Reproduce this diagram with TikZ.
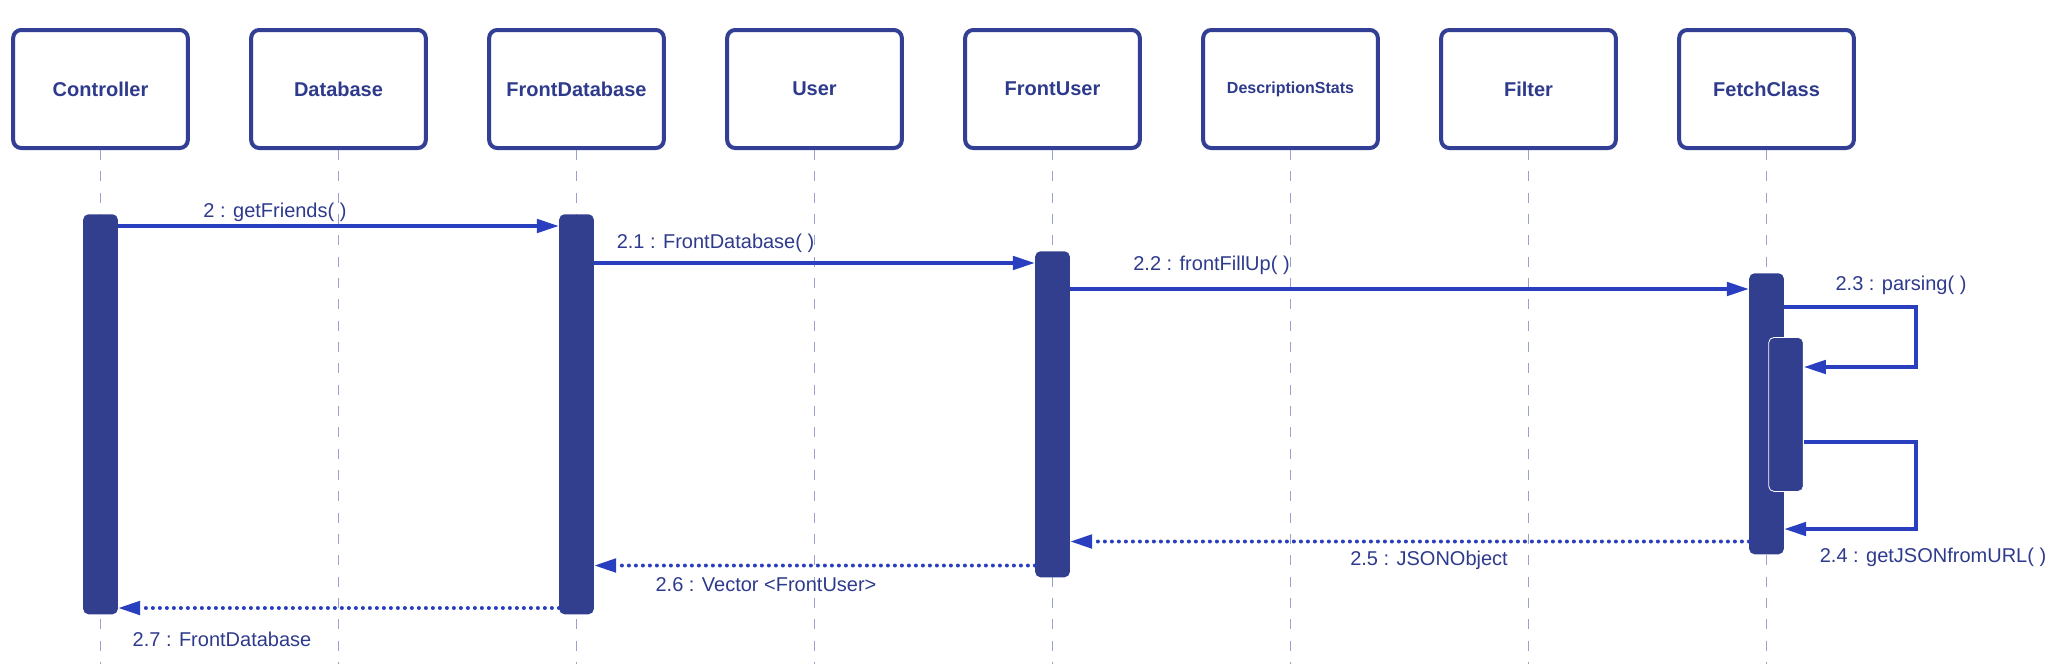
\documentclass[tikz,border=0pt]{standalone}
\usepackage{fontspec}
\setmainfont{Liberation Sans}
\usepackage{xcolor}
\usepackage{tikz}
\usetikzlibrary{calc, positioning, arrows.meta}
\definecolor{umlNavy}{HTML}{323F94}
\definecolor{umlBar}{HTML}{323F8F}
\definecolor{umlArrow}{HTML}{2A3FC0}
\definecolor{umlLife}{HTML}{9AA0CC}
\definecolor{umlText}{HTML}{2E3A8C}
\tikzset{
    object/.style={rectangle, draw=umlNavy, line width=3pt, rounded corners=6pt, fill=white, minimum width=131pt, minimum height=88.5pt, text=umlText, align=center},
    lifeline/.style={draw=umlLife, line width=1.1pt, dash pattern=on 7.5pt off 8.5pt},
    activation/.style={rectangle, fill=umlBar, rounded corners=4pt, minimum width=26pt, inner sep=0pt, anchor=north},
    call/.style={draw=umlArrow, line width=2.8pt, -{Triangle[length=16.5pt, width=10pt]}},
    reply/.style={draw=umlArrow, line width=3pt, line cap=round, dash pattern=on 0pt off 5.25pt, -{Triangle[length=16.5pt, width=10pt]}},
    msglabel/.style={text=umlText, font=\fontsize{15}{18}\selectfont, inner sep=1pt}
}

\begin{document}
\begin{tikzpicture}[x=0.75pt, y=-0.75pt]
    \useasboundingbox (0,0) rectangle (2072,664);
    \coordinate (bottom) at (0,664);

    % Objects and their lifelines
    \foreach \name/\txt/\sz [count=\i from 0] in {ctrl/Controller/15, db/Database/15, fdb/FrontDatabase/15, usr/User/15, fusr/FrontUser/15, dstats/DescriptionStats/12, filt/Filter/15, fetch/FetchClass/15} {
        \node[object, font=\bfseries\fontsize{\sz}{\sz}\selectfont] (\name) at (100.5+238*\i, 89) {\txt};
        \draw[lifeline] (\name.south) -- (\name.south |- bottom);
    }

    % Activation bars
    \node[activation, minimum height=300pt] (actCtrl) at (ctrl |- 0,214) {};
    \node[activation, minimum height=300pt] (actFdb) at (fdb |- 0,214) {};
    \node[activation, minimum height=244.5pt] (actFusr) at (fusr |- 0,251) {};
    \node[activation, minimum height=210.75pt] (actFetch) at (fetch |- 0,273) {};
    \node[activation, minimum height=115.5pt, draw=white, line width=0.6pt] (actNest) at (1786,337) {};

    % Message heights
    \coordinate (m2) at (0,226);
    \coordinate (m21) at (0,263);
    \coordinate (m22) at (0,289);
    \coordinate (m23) at (0,307);
    \coordinate (m23b) at (0,367);
    \coordinate (m24) at (0,442);
    \coordinate (m24b) at (0,529);
    \coordinate (m25) at (0,541.5);
    \coordinate (m26) at (0,565.5);
    \coordinate (m27) at (0,608);

    % Calls
    \draw[call] (actCtrl.east |- m2) -- (actFdb.west |- m2);
    \draw[call] (actFdb.east |- m21) -- (actFusr.west |- m21);
    \draw[call] (actFusr.east |- m22) -- (actFetch.west |- m22);
    \draw[call] (actFetch.east |- m23) -- ++(132,0) |- (actNest.east |- m23b);
    \draw[call] (actNest.east |- m24) -- ++(112,0) |- (actFetch.east |- m24b);

    % Returns
    \draw[reply] (actFetch.west |- m25) -- (actFusr.east |- m25);
    \draw[reply] (actFusr.west |- m26) -- (actFdb.east |- m26);
    \draw[reply] (actFdb.west |- m27) -- (actCtrl.east |- m27);

    % Labels
    \node[msglabel] (l2) at (275,212) {2 : getFriends( )};
    \node[msglabel] (l21) at (715.5,243) {2.1 : FrontDatabase( )};
    \node[msglabel] (l22) at (1211.5,265) {2.2 : frontFillUp( )};
    \node[msglabel] (l23) at (1901,285) {2.3 : parsing( )};
    \node[msglabel] (l24) at (1933,557) {2.4 : getJSONfromURL( )};
    \node[msglabel] (l25) at (1429,560) {2.5 : JSONObject};
    \node[msglabel] (l26) at (766,585) {2.6 : Vector <FrontUser>};
    \node[msglabel] (l27) at (222,639) {2.7 : FrontDatabase};
\end{tikzpicture}
\end{document}
